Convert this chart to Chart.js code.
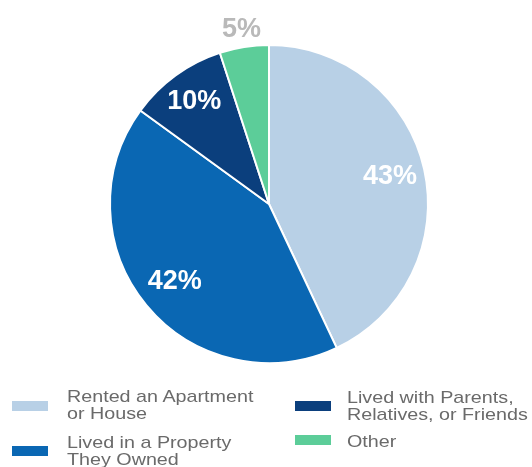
<!DOCTYPE html>
<html>
<head>
<meta charset="utf-8">
<script src="https://cdn.jsdelivr.net/npm/chart.js@4/dist/chart.umd.min.js"></script>
<style>
  html, body { margin: 0; padding: 0; background: #fff; }
  #wrap { position: relative; width: 532px; height: 467px; overflow: hidden; }
  #legend { position: absolute; left: 0; top: 0; width: 532px; height: 467px; pointer-events: none;
            font-family: "Liberation Sans", Arial, sans-serif; font-size: 17px; color: #6a6a6a; line-height: 17px; }
  .sw { position: absolute; width: 36px; height: 10px; }
  .tx { position: absolute; white-space: nowrap; transform: scaleX(1.16); transform-origin: 0 0; }
</style>
</head>
<body>
<div id="wrap">
  <canvas id="pie" width="532" height="467"></canvas>
  <div id="legend"></div>
</div>
<script>
var categories = [
  ["Rented an Apartment", "or House"],
  ["Lived in a Property", "They Owned"],
  ["Lived with Parents,", "Relatives, or Friends"],
  ["Other"]
];
var shares = [43, 42, 10, 5];
var colors = ["#b8d0e6", "#0a67b3", "#0b3f7d", "#5ccd99"];

// legend entry spots: [swatch x, swatch y, text x, text y]
var legendSpots = [
  [12, 401, 67, 388],
  [12, 446, 67, 434],
  [295, 401, 347, 389],
  [295, 435, 347, 433]
];

var pctLabels = {
  id: 'pctLabels',
  afterDatasetsDraw: function (chart) {
    var ctx = chart.ctx;
    var meta = chart.getDatasetMeta(0);
    ctx.save();
    ctx.font = 'bold 27px "Liberation Sans", Arial, sans-serif';
    ctx.textAlign = 'center';
    ctx.textBaseline = 'middle';
    var dist = [0.78, 0.77, 0.80, 1.11];
    meta.data.forEach(function (arc, i) {
      var mid = (arc.startAngle + arc.endAngle) / 2;
      var r = arc.outerRadius * dist[i];
      var x = arc.x + Math.cos(mid) * r;
      var y = arc.y + Math.sin(mid) * r;
      ctx.fillStyle = i === 3 ? '#b9b9b9' : '#ffffff';
      ctx.fillText(shares[i] + '%', x, y);
    });
    ctx.restore();
  }
};

var pie = new Chart(document.getElementById('pie').getContext('2d'), {
  type: 'pie',
  data: {
    labels: categories.map(c => c.join(' ')),
    datasets: [{
      data: shares,
      backgroundColor: colors,
      borderColor: '#ffffff',
      borderWidth: 2
    }]
  },
  options: {
    responsive: false,
    animation: false,
    layout: { padding: { top: 44, bottom: 103, left: 108, right: 102 } },
    plugins: {
      legend: { display: false },
      tooltip: { enabled: false }
    }
  },
  plugins: [pctLabels]
});

var legend = document.getElementById('legend');
categories.forEach(function (lines, i) {
  var s = legendSpots[i];
  var sw = document.createElement('div');
  sw.className = 'sw';
  sw.style.left = s[0] + 'px';
  sw.style.top = s[1] + 'px';
  sw.style.background = pie.data.datasets[0].backgroundColor[i];
  legend.appendChild(sw);
  var tx = document.createElement('div');
  tx.className = 'tx';
  tx.style.left = s[2] + 'px';
  tx.style.top = s[3] + 'px';
  tx.innerHTML = lines.join('<br>');
  legend.appendChild(tx);
});
</script>
</body>
</html>
